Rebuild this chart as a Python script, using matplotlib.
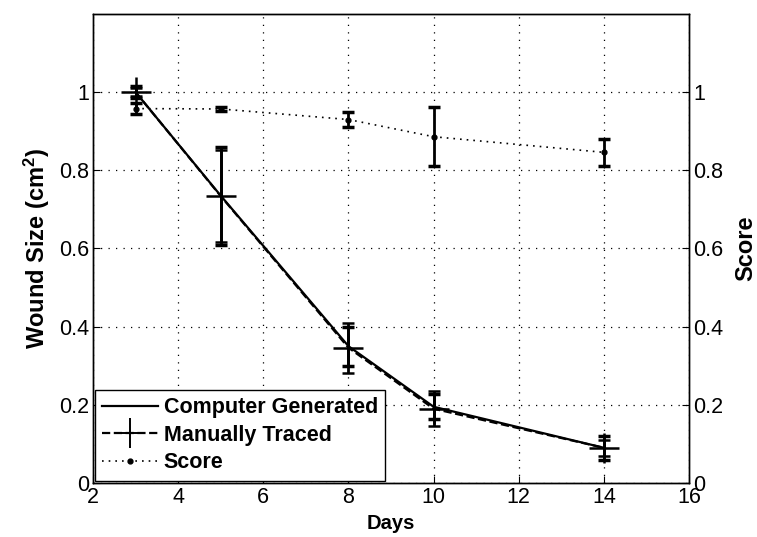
import matplotlib
matplotlib.use("Agg")
import matplotlib.pyplot as plt
from matplotlib.lines import Line2D

plt.rcParams['font.family'] = ['Liberation Sans', 'DejaVu Sans']
plt.rcParams['mathtext.fontset'] = 'custom'
plt.rcParams['mathtext.rm'] = 'Liberation Sans:bold'
plt.rcParams['mathtext.bf'] = 'Liberation Sans:bold'
plt.rcParams['mathtext.default'] = 'bf'

days = [3, 5, 8, 10, 14]

# wound size measured by the algorithm
computer = [1.0, 0.735, 0.35, 0.195, 0.09]
computer_err = [0.015, 0.125, 0.05, 0.032, 0.03]

# wound size traced by hand
manual = [1.0, 0.734, 0.346, 0.19, 0.09]
manual_err = [0.01, 0.118, 0.064, 0.045, 0.02]

# tracing score (right axis)
score = [0.958, 0.957, 0.93, 0.886, 0.846]
score_err = [0.015, 0.005, 0.02, 0.075, 0.035]

fig = plt.figure(figsize=(7.57, 5.37), dpi=100)
ax = fig.add_axes([0.1229, 0.1006, 0.7874, 0.8733])
ax2 = ax.twinx()

ax.errorbar(days, computer, yerr=computer_err, color='k', lw=1.6,
            elinewidth=2, capsize=4.5, capthick=2.5, zorder=3)
ax.errorbar(days, manual, yerr=manual_err, color='k', lw=1.6, ls='--',
            marker='+', ms=21, mew=1.8, elinewidth=2, capsize=4.5,
            capthick=2.5, zorder=4)
ax2.errorbar(days, score, yerr=score_err, color='k', lw=1.2, ls=(0, (1, 3)),
             marker='.', ms=7, elinewidth=2, capsize=4.5, capthick=2.5)

for a in (ax, ax2):
    a.set_xlim(2, 16)
    a.set_ylim(0, 1.2)
    a.set_yticks([0, 0.2, 0.4, 0.6, 0.8, 1.0])
    a.set_yticklabels(['0', '0.2', '0.4', '0.6', '0.8', '1'])
    a.tick_params(direction='in', length=5, labelsize=15.5, width=0.8, pad=3)
    for s in a.spines.values():
        s.set_linewidth(1.0)

ax.set_xticks(range(2, 17, 2))
ax.tick_params(top=False)
ax.grid(True, color='k', ls=(0, (1, 5)), lw=0.9)

ax.set_xlabel('Days', fontsize=14.5, fontweight='bold', labelpad=4)
ax.set_ylabel('Wound Size (cm$^2$)', fontsize=17, fontweight='bold', labelpad=5)
ax2.set_ylabel('Score', fontsize=17, fontweight='bold', labelpad=8)

handles = [
    Line2D([], [], color='k', lw=1.6),
    Line2D([], [], color='k', lw=1.6, ls='--', marker='+', ms=21, mew=1.4),
    Line2D([], [], color='k', lw=1.2, ls=(0, (1, 3)), marker='.', ms=7),
]
labels = ['Computer Generated', 'Manually Traced', 'Score']
leg = ax2.legend(handles, labels, loc='lower left', bbox_to_anchor=(0.003, 0.005),
                 borderaxespad=0, fancybox=False, framealpha=1, edgecolor='k',
                 prop={'weight': 'bold', 'size': 15.5}, handlelength=2.6,
                 handletextpad=0.25, labelspacing=0.3, borderpad=0.35)
leg.get_frame().set_linewidth(1.0)

fig.savefig('out.png', dpi=100)
